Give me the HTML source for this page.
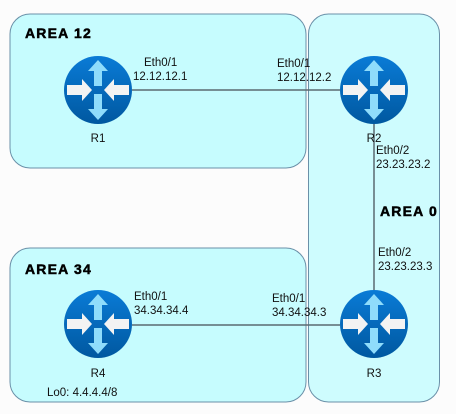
<!DOCTYPE html>
<html><head><style>
html,body{margin:0;padding:0;background:#fcfcfc;}
svg{display:block}
text{font-family:"Liberation Sans",sans-serif;font-size:11.5px;fill:#111}
.a{font-weight:900;font-size:14px;letter-spacing:1.2px;fill:#000;stroke:#000;stroke-width:0.5}
</style></head><body>
<svg width="456" height="414" viewBox="0 0 456 414">
<defs>
<linearGradient id="g" x1="0" y1="0" x2="0" y2="1">
<stop offset="0" stop-color="#0a7bd6"/><stop offset="1" stop-color="#0058a0"/></linearGradient>
<g id="r">
<circle r="34" fill="url(#g)"/>
<path d="M-31,-5 H-16 V-11 L-6,0 L-16,11 V5 H-31Z" fill="#f3f3f3"/>
<path d="M31,-5 H16 V-11 L6,0 L16,11 V5 H31Z" fill="#f3f3f3"/>
<path d="M-4,-4 V-19 H-10 L0,-30 L10,-19 H4 V-4Z" fill="#8fdcfb"/>
<path d="M-4,4 V19 H-10 L0,30 L10,19 H4 V4Z" fill="#8fdcfb"/>
</g>
</defs>
<rect x="10" y="14" width="296" height="154" rx="20" fill="#c6fcfe" stroke="#6a90a8"/>
<rect x="10" y="248" width="296" height="154" rx="20" fill="#c6fcfe" stroke="#6a90a8"/>
<rect x="308.5" y="14" width="131" height="388" rx="20" fill="#c6fcfe" stroke="#6a90a8" fill-opacity="0.85"/>
<line x1="132" y1="90" x2="340" y2="90" stroke="#5a6a70" stroke-width="1.5"/>
<line x1="132" y1="325" x2="340" y2="325" stroke="#5a6a70" stroke-width="1.5"/>
<line x1="374" y1="124" x2="374" y2="293" stroke="#5a6a70" stroke-width="1.5"/>
<use href="#r" x="98" y="90"/>
<use href="#r" x="374" y="90"/>
<use href="#r" x="98" y="324"/>
<use href="#r" x="374" y="324"/>
<text class="a" x="25" y="38">AREA 12</text>
<text class="a" x="25" y="274">AREA 34</text>
<text class="a" x="380" y="216">AREA 0</text>
<text x="144" y="66">Eth0/1</text><text x="133" y="80">12.12.12.1</text>
<text x="277" y="67">Eth0/1</text><text x="277" y="81">12.12.12.2</text>
<text x="376" y="154">Eth0/2</text><text x="376" y="168">23.23.23.2</text>
<text x="378" y="256">Eth0/2</text><text x="378" y="270">23.23.23.3</text>
<text x="134" y="300">Eth0/1</text><text x="134" y="314">34.34.34.4</text>
<text x="272" y="302">Eth0/1</text><text x="272" y="316">34.34.34.3</text>
<text x="98" y="142" text-anchor="middle">R1</text>
<text x="374" y="142" text-anchor="middle">R2</text>
<text x="98" y="377" text-anchor="middle">R4</text>
<text x="374" y="377" text-anchor="middle">R3</text>
<text x="47" y="396">Lo0: 4.4.4.4/8</text>
</svg>
</body></html>
